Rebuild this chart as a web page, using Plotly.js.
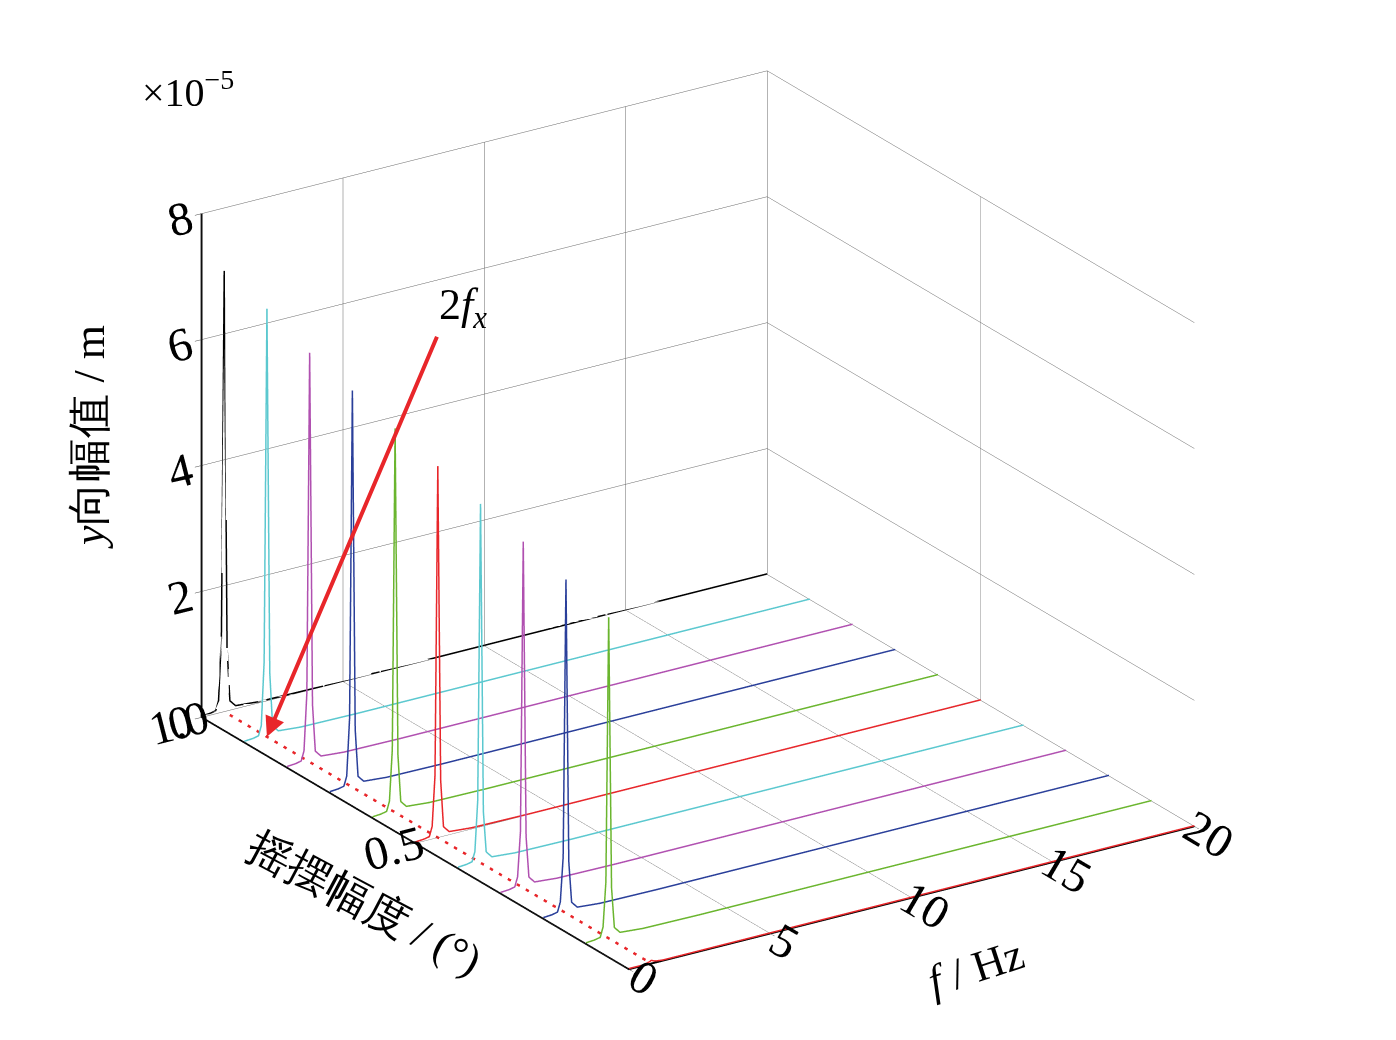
<!DOCTYPE html>
<html>
<head>
<meta charset="utf-8">
<script src="https://cdn.plot.ly/plotly-3.0.1.min.js"></script>
<style>body{margin:0;background:#fff}#plot{width:1396px;height:1040px}</style>
</head>
<body>
<div id="plot"></div>
<script>
// frequency samples (Hz)
const freq = [0, 0.3, 0.5, 0.6, 0.7, 0.8, 0.9, 1.0, 1.2, 2, 4, 6, 8, 10, 12, 14, 16, 18, 20];
// swing amplitudes (deg), back to front
const swing = [1.0, 0.9, 0.8, 0.7, 0.6, 0.5, 0.4, 0.3, 0.2, 0.1, 0.0];
const colors = ["#000000", "#5bc8cf", "#b050b0", "#2a3f9a", "#6ab52e", "#e8262a",
                "#5bc8cf", "#b050b0", "#2a3f9a", "#6ab52e", "#e8262a"];
// y-direction spectra (x1e-5 m) per swing amplitude
const spectra = [
  [0.02, 0.03, 0.05, 0.2, 1.2, 7.0, 1.0, 0.15, 0.05, 0.02, 0.01, 0.01, 0.01, 0.01, 0.01, 0.01, 0.01, 0.01, 0.01],
  [0.02, 0.03, 0.05, 0.2, 1.2, 6.8, 1.0, 0.15, 0.05, 0.02, 0.01, 0.01, 0.01, 0.01, 0.01, 0.01, 0.01, 0.01, 0.01],
  [0.02, 0.03, 0.05, 0.2, 1.1, 6.5, 0.9, 0.15, 0.05, 0.02, 0.01, 0.01, 0.01, 0.01, 0.01, 0.01, 0.01, 0.01, 0.01],
  [0.02, 0.03, 0.05, 0.2, 1.1, 6.3, 0.9, 0.15, 0.05, 0.02, 0.01, 0.01, 0.01, 0.01, 0.01, 0.01, 0.01, 0.01, 0.01],
  [0.02, 0.03, 0.05, 0.2, 1.0, 6.1, 0.9, 0.15, 0.05, 0.02, 0.01, 0.01, 0.01, 0.01, 0.01, 0.01, 0.01, 0.01, 0.01],
  [0.02, 0.03, 0.05, 0.2, 1.0, 5.9, 0.9, 0.15, 0.05, 0.02, 0.01, 0.01, 0.01, 0.01, 0.01, 0.01, 0.01, 0.01, 0.01],
  [0.02, 0.03, 0.05, 0.2, 1.0, 5.7, 0.8, 0.15, 0.05, 0.02, 0.01, 0.01, 0.01, 0.01, 0.01, 0.01, 0.01, 0.01, 0.01],
  [0.02, 0.03, 0.05, 0.2, 0.9, 5.5, 0.8, 0.15, 0.05, 0.02, 0.01, 0.01, 0.01, 0.01, 0.01, 0.01, 0.01, 0.01, 0.01],
  [0.02, 0.03, 0.05, 0.2, 0.9, 5.3, 0.8, 0.15, 0.05, 0.02, 0.01, 0.01, 0.01, 0.01, 0.01, 0.01, 0.01, 0.01, 0.01],
  [0.02, 0.03, 0.05, 0.2, 0.9, 5.1, 0.8, 0.15, 0.05, 0.02, 0.01, 0.01, 0.01, 0.01, 0.01, 0.01, 0.01, 0.01, 0.01],
  [0.01, 0.01, 0.01, 0.02, 0.03, 0.05, 0.03, 0.02, 0.01, 0.01, 0.01, 0.01, 0.01, 0.01, 0.01, 0.01, 0.01, 0.01, 0.01]
];
// 2fx ridge line on the floor
const ridgeF = [0.8, 0.8];
const ridgeS = [1.05, 0.0];

const traces = swing.map((s, i) => ({
  type: "scatter3d",
  mode: "lines",
  x: freq,
  y: freq.map(() => s),
  z: spectra[i],
  line: {color: colors[i], width: 3},
  showlegend: false
}));

traces.push({
  type: "scatter3d",
  mode: "lines",
  x: ridgeF,
  y: ridgeS,
  z: [0, 0],
  line: {color: "#e8262a", width: 5, dash: "dash"},
  showlegend: false
});

const family = "Liberation Serif, Times New Roman, serif";
const tickfont = {family: family, size: 24, color: "#000"};
const labelfont = {family: family, size: 44, color: "#000"};
const ax = {
  showbackground: false,
  gridcolor: "#666",
  gridwidth: 1,
  showline: true,
  linecolor: "#000",
  linewidth: 4,
  zeroline: false,
  ticks: "outside",
  ticklen: 8,
  tickfont: tickfont,
  showspikes: false,
  title: {text: ""}
};

function label(text, x, y, angle) {
  return {text: text, x: x, y: y, xref: "paper", yref: "paper", showarrow: false,
    textangle: angle, font: labelfont};
}

Plotly.newPlot("plot", traces, {
  paper_bgcolor: "#fff",
  margin: {l: 0, r: 0, t: 0, b: 0},
  scene: {
    domain: {x: [0, 1], y: [0, 1]},
    camera: {
      eye: {x: -0.72, y: -1.1, z: 0.55},
      center: {x: 0.0, y: 0, z: 0.0},
      projection: {type: "orthographic"}
    },
    aspectmode: "manual",
    aspectratio: {x: 1.3, y: 1.5, z: 1.05},
    xaxis: Object.assign({}, ax, {range: [0, 20], tickvals: [0, 5, 10, 15, 20]}),
    yaxis: Object.assign({}, ax, {range: [0, 1.0], tickvals: [0.5, 1.0], ticktext: ["0.5", "1.0"]}),
    zaxis: Object.assign({}, ax, {range: [0, 8], tickvals: [0, 2, 4, 6, 8]}),
    annotations: [{
      x: 0.8, y: 0.9, z: 0,
      text: "2<i>f</i><sub><i>x</i></sub>",
      font: {family: family, size: 44, color: "#000"},
      showarrow: true,
      arrowcolor: "#e8262a",
      arrowwidth: 4,
      arrowhead: 2,
      ax: 170, ay: -400,
      xanchor: "left", yanchor: "bottom"
    }]
  },
  annotations: [
    {
      text: "×10<sup>−5</sup>",
      x: 0.1, y: 0.94, xref: "paper", yref: "paper",
      showarrow: false, xanchor: "left",
      font: {family: family, size: 40, color: "#000"}
    },
    label("<i>y</i>向幅值 / m", 0.045, 0.58, -90),
    label("摇摆幅度 / (°)", 0.17, 0.05, 28),
    label("<i>f</i> / Hz", 0.74, 0.03, -18)
  ]
}, {displayModeBar: false});
</script>
</body>
</html>
